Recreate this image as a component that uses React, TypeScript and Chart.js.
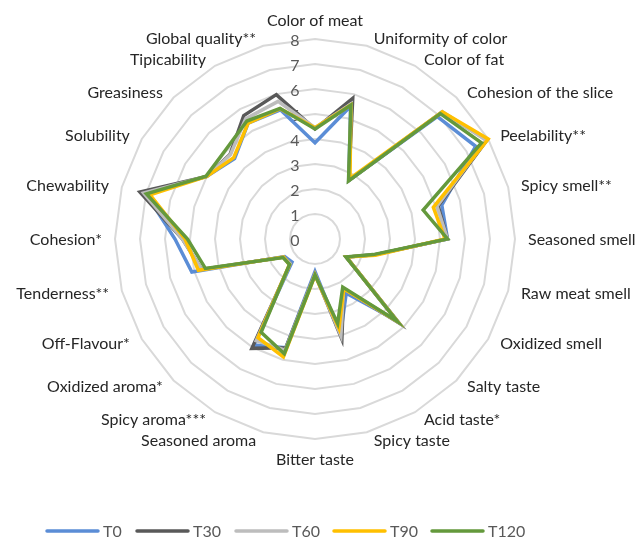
import React, { useEffect, useRef } from "react";
import { Chart, registerables } from "chart.js";

Chart.register(...registerables);

const categories = [
  "Color of meat",
  "Uniformity of color",
  "Color of fat",
  "Cohesion of the slice",
  "Peelability**",
  "Spicy smell**",
  "Seasoned smell",
  "Raw meat smell",
  "Oxidized smell",
  "Salty taste",
  "Acid taste*",
  "Spicy taste",
  "Bitter taste",
  "Seasoned aroma",
  "Spicy aroma***",
  "Oxidized aroma*",
  "Off-Flavour*",
  "Tenderness**",
  "Cohesion*",
  "Chewability",
  "Solubility",
  "Greasiness",
  "Tipicability",
  "Global quality**",
];

const seriesNames = ["T0", "T30", "T60", "T90", "T120"];
const seriesColors = ["#5B8DD6", "#595959", "#BDBDBD", "#FFC000", "#64993C"];

const t0 = [3.85, 5.5, 2.7, 6.92, 7.42, 5.25, 5.3, 2.45, 1.45, 4.6, 2.5, 3.95, 1.3, 4.5, 4.9, 1.3, 1.4, 5.1, 5.6, 7.0, 5.0, 4.55, 5.35, 5.35];
const t30 = [4.4, 5.83, 2.7, 7.15, 7.96, 5.1, 5.3, 2.45, 1.45, 4.75, 2.3, 4.15, 1.4, 4.5, 5.05, 1.4, 1.45, 4.7, 5.3, 7.25, 5.0, 4.8, 5.7, 5.98];
const t60 = [4.45, 5.6, 2.7, 7.2, 7.9, 5.05, 5.3, 2.45, 1.45, 4.7, 2.3, 4.0, 1.4, 4.6, 4.7, 1.4, 1.45, 4.7, 5.3, 7.1, 5.0, 4.78, 5.55, 5.7];
const t90 = [4.45, 5.55, 2.8, 7.2, 8.0, 4.9, 5.2, 2.5, 1.45, 4.65, 2.3, 3.7, 1.45, 4.88, 4.56, 1.45, 1.45, 4.83, 5.2, 6.83, 5.0, 4.6, 5.35, 5.4];
const t120 = [4.4, 5.55, 2.68, 7.09, 7.69, 4.48, 5.3, 2.41, 1.43, 4.65, 2.22, 3.5, 1.44, 4.75, 4.31, 1.44, 1.48, 4.54, 5.1, 6.98, 5.03, 5.05, 5.45, 5.41];

const seriesValues = [t0, t30, t60, t90, t120];
const tickLabels = ["0", "1", "2", "3", "4", "5", "6", "7", "8"];

const FONT = "Lato, 'Open Sans', sans-serif";

const overlayPlugin = {
  id: "overlay",
  beforeDatasetsDraw(chart: any) {
    const scale = chart.scales.r;
    const ctx = chart.ctx as CanvasRenderingContext2D;
    ctx.save();
    // value axis labels
    ctx.font = `16px ${FONT}`;
    ctx.fillStyle = "#595959";
    ctx.textAlign = "center";
    ctx.textBaseline = "middle";
    tickLabels.forEach((t) => {
      const d = scale.getDistanceFromCenterForValue(Number(t));
      ctx.fillText(t, scale.xCenter - 20, scale.yCenter - d + 2);
    });
    // category labels
    ctx.font = `16px ${FONT}`;
    ctx.fillStyle = "#262626";
    const n = categories.length;
    categories.forEach((c, i) => {
      const p = scale.getPointPosition(i, scale.drawingArea + 8);
      const ang = (i * 360) / n;
      if (ang === 0) {
        ctx.textAlign = "center";
        ctx.textBaseline = "bottom";
        ctx.fillText(c, p.x, p.y - 2);
      } else if (ang === 180) {
        ctx.textAlign = "center";
        ctx.textBaseline = "top";
        ctx.fillText(c, p.x, p.y + 5);
      } else if (ang < 180) {
        ctx.textAlign = "left";
        ctx.textBaseline = "middle";
        ctx.fillText(c, p.x + 5, p.y + 1);
      } else {
        ctx.textAlign = "right";
        ctx.textBaseline = "middle";
        ctx.fillText(c, p.x - 5, p.y + 1);
      }
    });
    ctx.restore();
  },
  afterDraw(chart: any) {
    const ctx = chart.ctx as CanvasRenderingContext2D;
    const starts = [47, 137, 236, 334, 432];
    ctx.save();
    ctx.font = `16px ${FONT}`;
    ctx.textAlign = "left";
    ctx.textBaseline = "middle";
    seriesNames.forEach((name, i) => {
      const x = starts[i];
      const y = 531;
      ctx.strokeStyle = seriesColors[i];
      ctx.lineWidth = 3.5;
      ctx.lineCap = "round";
      ctx.beginPath();
      ctx.moveTo(x, y);
      ctx.lineTo(x + 51, y);
      ctx.stroke();
      ctx.fillStyle = "#595959";
      ctx.fillText(name, x + 56, y + 1);
    });
    ctx.restore();
  },
};

export default function App() {
  const canvasRef = useRef<HTMLCanvasElement | null>(null);

  useEffect(() => {
    if (!canvasRef.current) return;
    const chart = new Chart(canvasRef.current, {
      type: "radar",
      data: {
        labels: categories,
        datasets: seriesNames.map((name, i) => ({
          label: name,
          data: seriesValues[i],
          borderColor: seriesColors[i],
          backgroundColor: seriesColors[i],
          borderWidth: 3.5,
          pointRadius: 0,
          pointHoverRadius: 0,
          fill: false,
          tension: 0,
          borderJoinStyle: "miter" as const,
          order: seriesNames.length - i,
        })),
      },
      options: {
        responsive: false,
        animation: false,
        events: [],
        layout: { padding: { left: 115, top: 39, right: 123, bottom: 101 } },
        plugins: {
          legend: { display: false },
          tooltip: { enabled: false },
          title: { display: false },
        },
        scales: {
          r: {
            min: 0,
            max: 8,
            ticks: { display: false, stepSize: 1 },
            pointLabels: { display: false },
            angleLines: { display: false },
            grid: { color: "#D9D9D9", lineWidth: 2 },
          },
        },
      },
      plugins: [overlayPlugin],
    });
    return () => chart.destroy();
  }, []);

  return (
    <div style={{ position: "absolute", left: 0, top: 0, width: 638, height: 540, background: "#fff" }}>
      <canvas ref={canvasRef} width={638} height={540} />
    </div>
  );
}
